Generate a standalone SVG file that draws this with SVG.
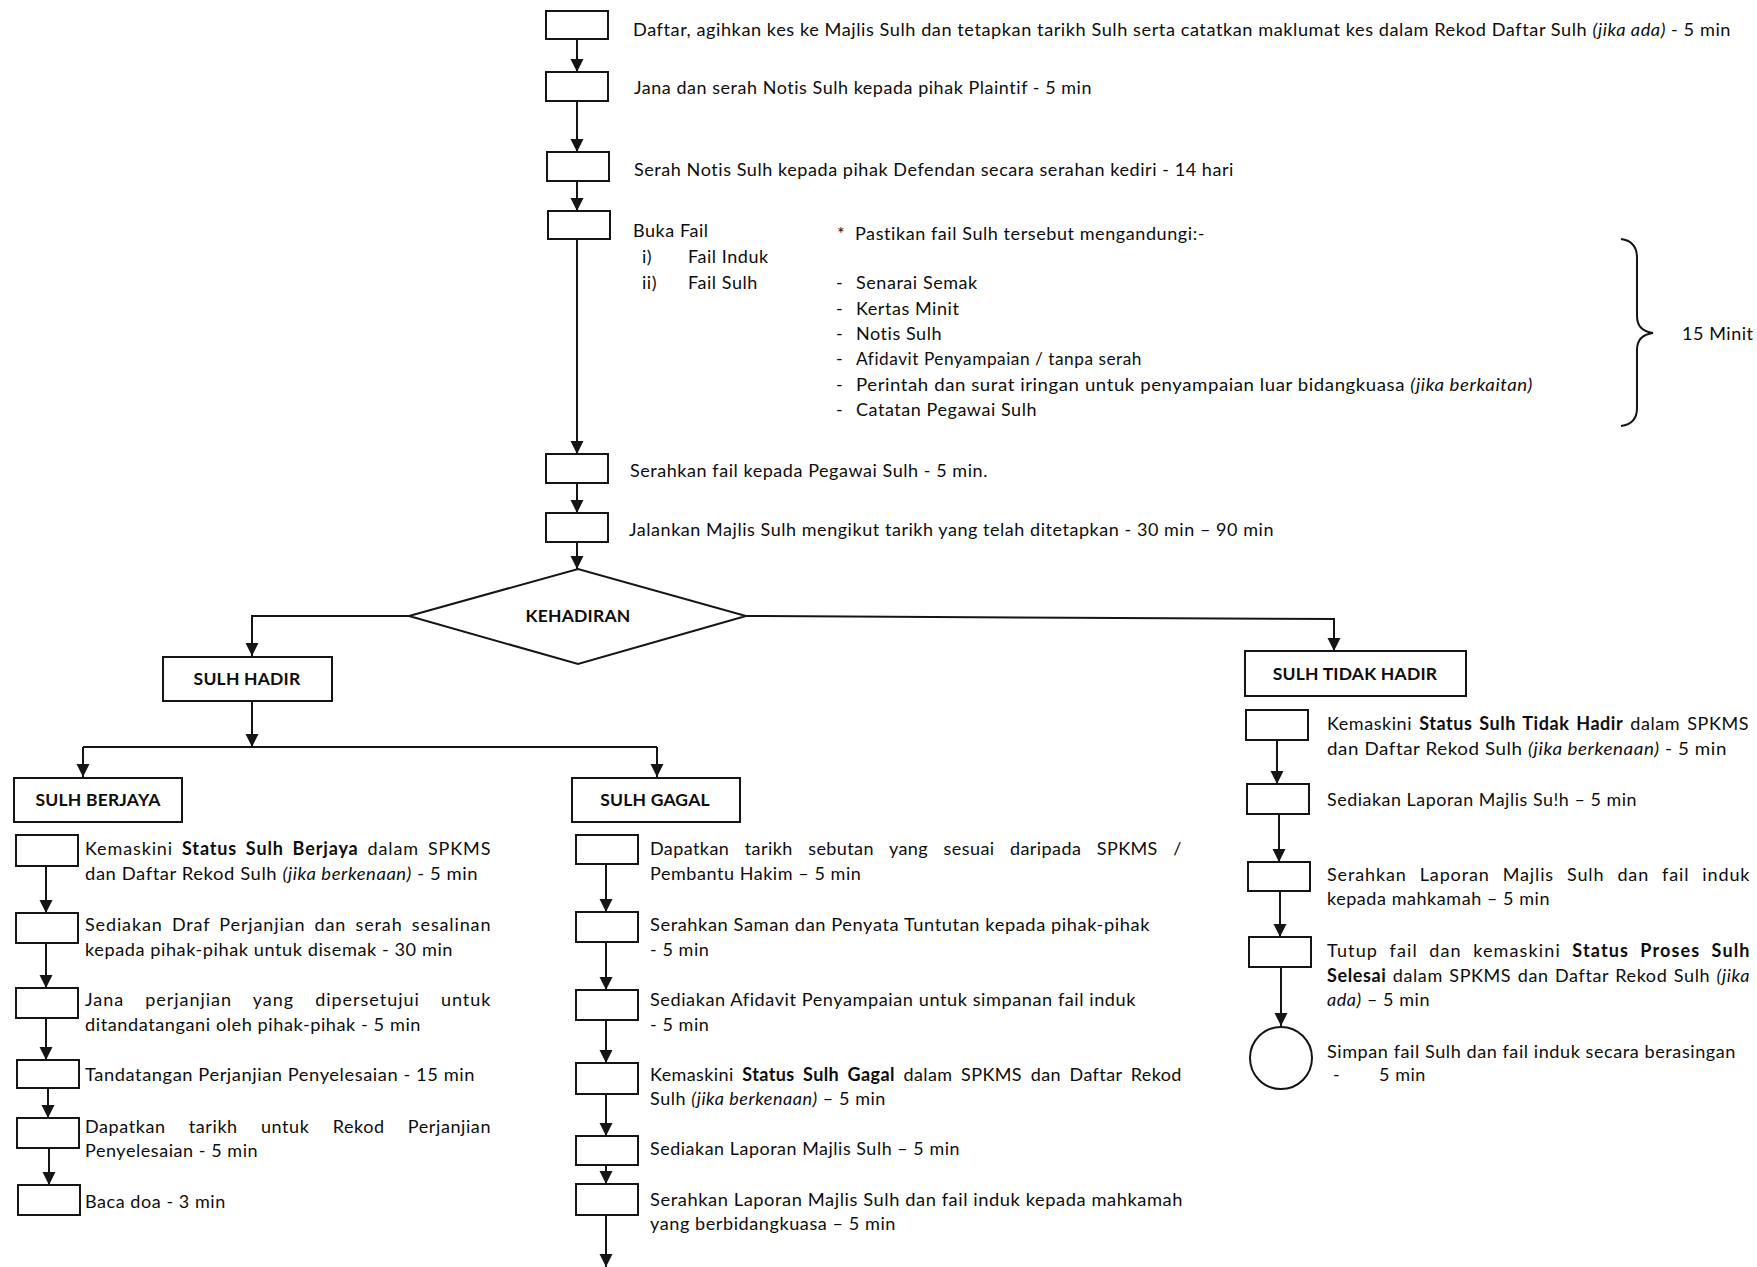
<svg xmlns="http://www.w3.org/2000/svg" width="1757" height="1267" viewBox="0 0 1757 1267">
<style>
.t{font-family:Lato,"Liberation Sans",sans-serif;font-size:18px;letter-spacing:0.55px;fill:#0d0d0d}
.b{font-weight:700}
.i{font-style:italic}
.lbl{font-family:Lato,"Liberation Sans",sans-serif;font-size:17.5px;letter-spacing:0.2px;font-weight:700;fill:#0d0d0d;text-anchor:middle}
.box{fill:#fff;stroke:#151515;stroke-width:2}
.c{fill:none;stroke:#151515;stroke-width:2}
.a{fill:none;stroke:#151515;stroke-width:2;marker-end:url(#ah)}
</style>
<defs>
<marker id="ah" markerUnits="userSpaceOnUse" markerWidth="14" markerHeight="14" refX="13" refY="6.5" orient="auto" viewBox="0 0 14 13">
<path d="M0,0 L13,6.5 L0,13 z" fill="#151515"/>
</marker>
</defs>
<rect width="1757" height="1267" fill="#fff"/>

<g id="connectors">
<path class="a" d="M577,39 V72"/>
<path class="a" d="M577,101 V152"/>
<path class="a" d="M577,181 V211"/>
<path class="a" d="M577,239 V454"/>
<path class="a" d="M577,483 V513"/>
<path class="a" d="M577,542 V569"/>
<path class="a" d="M409,616 H252 V656"/>
<path class="a" d="M746,616 L1334,619 V651"/>
<path class="a" d="M252,701 V747"/>
<path class="c" d="M83,747 H657"/>
<path class="a" d="M83,747 V777"/>
<path class="a" d="M657,747 V777"/>
<path class="a" d="M46,866 V913"/>
<path class="a" d="M46,943 V988"/>
<path class="a" d="M46,1018 V1060"/>
<path class="a" d="M48,1088 V1118"/>
<path class="a" d="M49,1148 V1185"/>
<path class="a" d="M606,864 V912"/>
<path class="a" d="M606,942 V990"/>
<path class="a" d="M606,1020 V1063"/>
<path class="a" d="M606,1094 V1136"/>
<path class="a" d="M606,1165 V1184"/>
<path class="a" d="M606,1215 V1267"/>
<path class="a" d="M1277,740 V784"/>
<path class="a" d="M1279,814 V862"/>
<path class="a" d="M1280,891 V937"/>
<path class="a" d="M1281,967 V1026"/>
</g>

<g id="top1"><rect class="box" x="546" y="11" width="62" height="28"/>
<text class="t" x="633" y="36" textLength="1098" lengthAdjust="spacingAndGlyphs">Daftar, agihkan kes ke Majlis Sulh dan tetapkan tarikh Sulh serta catatkan maklumat kes dalam Rekod Daftar Sulh <tspan class="i">(jika ada)</tspan> - 5 min</text></g>
<g id="top2"><rect class="box" x="546" y="72" width="62" height="29"/>
<text class="t" x="634" y="94" textLength="458" lengthAdjust="spacingAndGlyphs">Jana dan serah Notis Sulh kepada pihak Plaintif - 5 min</text></g>
<g id="top3"><rect class="box" x="547" y="152" width="62" height="29"/>
<text class="t" x="634" y="176" textLength="600" lengthAdjust="spacingAndGlyphs">Serah Notis Sulh kepada pihak Defendan secara serahan kediri - 14 hari</text></g>
<g id="top4"><rect class="box" x="548" y="211" width="62" height="28"/>
<text class="t" x="633" y="237">Buka Fail</text>
<text class="t" x="642" y="263">i)</text><text class="t" x="688" y="263">Fail Induk</text>
<text class="t" x="642" y="289">ii)</text><text class="t" x="688" y="289">Fail Sulh</text>
<text class="t" x="837" y="240">*</text><text class="t" x="855" y="240" textLength="350" lengthAdjust="spacingAndGlyphs">Pastikan fail Sulh tersebut mengandungi:-</text>
<text class="t" x="836" y="289">-</text><text class="t" x="856" y="289">Senarai Semak</text>
<text class="t" x="836" y="315">-</text><text class="t" x="856" y="315">Kertas Minit</text>
<text class="t" x="836" y="340">-</text><text class="t" x="856" y="340">Notis Sulh</text>
<text class="t" x="836" y="365">-</text><text class="t" x="856" y="365" textLength="286" lengthAdjust="spacingAndGlyphs">Afidavit Penyampaian / tanpa serah</text>
<text class="t" x="836" y="391">-</text><text class="t" x="856" y="391" textLength="677" lengthAdjust="spacingAndGlyphs">Perintah dan surat iringan untuk penyampaian luar bidangkuasa  <tspan class="i">(jika berkaitan)</tspan></text>
<text class="t" x="836" y="416">-</text><text class="t" x="856" y="416">Catatan Pegawai Sulh</text>
<path class="c" d="M1621,239 Q1637,241 1637,258 V316 Q1637,331 1653,333 Q1637,335 1637,350 V408 Q1637,424 1621,426"/>
<text class="t" x="1682" y="340">15 Minit</text></g>
<g id="top5"><rect class="box" x="546" y="454" width="62" height="29"/>
<text class="t" x="630" y="477" textLength="358" lengthAdjust="spacingAndGlyphs">Serahkan fail kepada Pegawai Sulh - 5 min.</text></g>
<g id="top6"><rect class="box" x="546" y="513" width="62" height="29"/>
<text class="t" x="629" y="536" textLength="645" lengthAdjust="spacingAndGlyphs">Jalankan Majlis Sulh mengikut tarikh yang telah ditetapkan - 30 min – 90 min</text></g>

<g id="kehadiran"><polygon class="box" points="409,616 578,569 746,616 578,664"/>
<text class="lbl" x="578" y="622">KEHADIRAN</text></g>

<g id="sulh-hadir"><rect class="box" x="163" y="657" width="169" height="44"/>
<text class="lbl" x="247" y="685">SULH HADIR</text></g>
<g id="sulh-berjaya"><rect class="box" x="14" y="778" width="168" height="44"/>
<text class="lbl" x="98" y="806">SULH BERJAYA</text></g>
<g id="sulh-gagal"><rect class="box" x="572" y="778" width="168" height="44"/>
<text class="lbl" x="655" y="806">SULH GAGAL</text></g>
<g id="sulh-tidak-hadir"><rect class="box" x="1245" y="651" width="221" height="45"/>
<text class="lbl" x="1355" y="680">SULH TIDAK HADIR</text></g>

<g id="b1"><rect class="box" x="16" y="835" width="62" height="31"/>
<text class="t" x="85" y="855" word-spacing="3.5" textLength="406" lengthAdjust="spacing">Kemaskini <tspan class="b">Status Sulh Berjaya</tspan> dalam SPKMS</text>
<text class="t" x="85" y="880" textLength="393" lengthAdjust="spacingAndGlyphs">dan Daftar Rekod Sulh <tspan class="i">(jika berkenaan)</tspan> - 5 min</text></g>
<g id="b2"><rect class="box" x="16" y="913" width="62" height="30"/>
<text class="t" x="85" y="931" word-spacing="3.8" textLength="406" lengthAdjust="spacing">Sediakan Draf Perjanjian dan serah sesalinan</text>
<text class="t" x="85" y="956" textLength="368" lengthAdjust="spacingAndGlyphs">kepada pihak-pihak untuk disemak - 30 min</text></g>
<g id="b3"><rect class="box" x="16" y="988" width="62" height="30"/>
<text class="t" x="85" y="1006" word-spacing="15.5" textLength="406" lengthAdjust="spacing">Jana perjanjian yang dipersetujui untuk</text>
<text class="t" x="85" y="1031" textLength="336" lengthAdjust="spacingAndGlyphs">ditandatangani oleh pihak-pihak - 5 min</text></g>
<g id="b4"><rect class="box" x="17" y="1060" width="62" height="28"/>
<text class="t" x="85" y="1081" textLength="390" lengthAdjust="spacingAndGlyphs">Tandatangan Perjanjian Penyelesaian - 15 min</text></g>
<g id="b5"><rect class="box" x="17" y="1118" width="62" height="30"/>
<text class="t" x="85" y="1133" word-spacing="18" textLength="406" lengthAdjust="spacing">Dapatkan tarikh untuk Rekod Perjanjian</text>
<text class="t" x="85" y="1157">Penyelesaian - 5 min</text></g>
<g id="b6"><rect class="box" x="18" y="1185" width="62" height="30"/>
<text class="t" x="85" y="1208">Baca doa - 3 min</text></g>

<g id="g1"><rect class="box" x="576" y="835" width="62" height="29"/>
<text class="t" x="650" y="855" word-spacing="10.5" textLength="532" lengthAdjust="spacing">Dapatkan tarikh sebutan yang sesuai daripada SPKMS /</text>
<text class="t" x="650" y="880">Pembantu Hakim – 5 min</text></g>
<g id="g2"><rect class="box" x="576" y="912" width="62" height="30"/>
<text class="t" x="650" y="931" textLength="500" lengthAdjust="spacingAndGlyphs">Serahkan Saman dan Penyata Tuntutan kepada pihak-pihak</text>
<text class="t" x="650" y="956">- 5 min</text></g>
<g id="g3"><rect class="box" x="576" y="990" width="62" height="30"/>
<text class="t" x="650" y="1006" textLength="486" lengthAdjust="spacingAndGlyphs">Sediakan Afidavit Penyampaian untuk simpanan fail induk</text>
<text class="t" x="650" y="1031">- 5 min</text></g>
<g id="g4"><rect class="box" x="576" y="1063" width="62" height="31"/>
<text class="t" x="650" y="1081" word-spacing="3.6" textLength="532" lengthAdjust="spacing">Kemaskini <tspan class="b">Status Sulh Gagal</tspan> dalam SPKMS dan Daftar Rekod</text>
<text class="t" x="650" y="1105">Sulh <tspan class="i">(jika berkenaan)</tspan> – 5 min</text></g>
<g id="g5"><rect class="box" x="576" y="1136" width="62" height="29"/>
<text class="t" x="650" y="1155" textLength="310" lengthAdjust="spacingAndGlyphs">Sediakan Laporan Majlis Sulh – 5 min</text></g>
<g id="g6"><rect class="box" x="576" y="1184" width="62" height="31"/>
<text class="t" x="650" y="1206" textLength="533" lengthAdjust="spacingAndGlyphs">Serahkan Laporan Majlis Sulh dan fail induk kepada mahkamah</text>
<text class="t" x="650" y="1230" textLength="246" lengthAdjust="spacingAndGlyphs">yang berbidangkuasa – 5 min</text></g>

<g id="t1"><rect class="box" x="1246" y="710" width="62" height="30"/>
<text class="t" x="1327" y="730" word-spacing="2" textLength="422" lengthAdjust="spacing">Kemaskini <tspan class="b">Status Sulh Tidak Hadir</tspan> dalam SPKMS</text>
<text class="t" x="1327" y="755" textLength="400" lengthAdjust="spacingAndGlyphs">dan Daftar Rekod Sulh <tspan class="i">(jika berkenaan)</tspan>  -  5 min</text></g>
<g id="t2"><rect class="box" x="1247" y="784" width="62" height="30"/>
<text class="t" x="1327" y="806" textLength="310" lengthAdjust="spacingAndGlyphs">Sediakan Laporan Majlis Su!h – 5 min</text></g>
<g id="t3"><rect class="box" x="1248" y="862" width="62" height="29"/>
<text class="t" x="1327" y="881" word-spacing="7.5" textLength="423" lengthAdjust="spacing">Serahkan Laporan Majlis Sulh dan fail induk</text>
<text class="t" x="1327" y="905">kepada mahkamah  – 5 min</text></g>
<g id="t4"><rect class="box" x="1249" y="937" width="62" height="30"/>
<text class="t" x="1327" y="957" word-spacing="5.7" textLength="423" lengthAdjust="spacing">Tutup fail dan kemaskini <tspan class="b">Status Proses Sulh</tspan></text>
<text class="t" x="1327" y="982" word-spacing="1.3" textLength="423" lengthAdjust="spacing"><tspan class="b">Selesai</tspan> dalam SPKMS dan Daftar Rekod Sulh <tspan class="i">(jika</tspan></text>
<text class="t" x="1327" y="1006"><tspan class="i">ada)</tspan> – 5 min</text></g>
<g id="end"><circle class="box" cx="1281" cy="1058" r="31"/>
<text class="t" x="1327" y="1058" textLength="409" lengthAdjust="spacingAndGlyphs">Simpan fail Sulh dan fail induk secara berasingan</text>
<text class="t" x="1333" y="1081">-</text><text class="t" x="1379" y="1081">5 min</text></g>
</svg>
